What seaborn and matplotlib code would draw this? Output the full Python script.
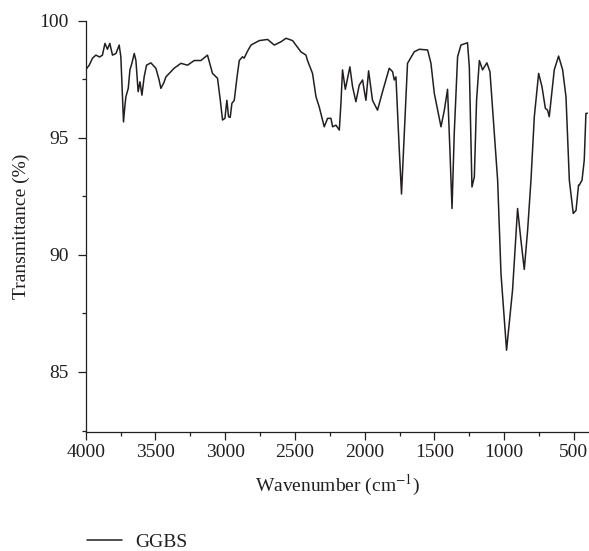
import matplotlib
matplotlib.use("Agg")
import matplotlib.pyplot as plt
import seaborn as sns
import pandas as pd
from matplotlib.ticker import MultipleLocator
from matplotlib.lines import Line2D

wavenumber = [4000, 3975, 3951, 3927, 3900, 3880, 3862, 3844, 3827, 3808, 3783, 3760, 3748, 3738,
              3729, 3720, 3712, 3695, 3683, 3669, 3652, 3640, 3630, 3624, 3611, 3597, 3581, 3564,
              3533, 3497, 3475, 3461, 3440, 3425, 3366, 3317, 3270, 3222, 3174, 3127, 3091, 3055,
              3035, 3019, 3002, 2988, 2976, 2964, 2952, 2935, 2915, 2899, 2876, 2864, 2840, 2815,
              2756, 2696, 2648, 2600, 2564, 2517, 2457, 2421, 2410, 2374, 2349, 2326, 2290, 2266,
              2242, 2230, 2206, 2182, 2170, 2159, 2139, 2106, 2087, 2063, 2039, 2015, 2004, 1991,
              1972, 1944, 1908, 1872, 1824, 1800, 1788, 1776, 1752, 1736, 1716, 1693, 1645, 1609,
              1549, 1525, 1501, 1453, 1429, 1406, 1389, 1374, 1358, 1334, 1310, 1263, 1250, 1231,
              1214, 1198, 1178, 1155, 1124, 1102, 1071, 1047, 1023, 983, 940, 904, 880, 856, 832,
              808, 784, 753, 729, 705, 689, 677, 641, 610, 581, 557, 533, 505, 485, 467, 462, 442,
              426, 414, 404]
transmittance = [97.9, 98.1, 98.4, 98.53, 98.45, 98.53, 99.03, 98.78, 99.03, 98.53, 98.6, 98.96, 98.46, 97.0,
                 95.68, 96.3, 96.75, 97.11, 97.9, 98.18, 98.6, 98.3, 97.5, 96.97, 97.39, 96.82, 97.6, 98.1,
                 98.2, 97.97, 97.5, 97.11, 97.35, 97.6, 97.97, 98.18, 98.1, 98.3, 98.3, 98.53, 97.75, 97.54,
                 96.6, 95.76, 95.83, 96.6, 95.9, 95.87, 96.47, 96.6, 97.6, 98.3, 98.46, 98.4, 98.7, 98.96,
                 99.15, 99.2, 98.96, 99.1, 99.25, 99.15, 98.67, 98.53, 98.3, 97.75, 96.75, 96.32, 95.47, 95.83,
                 95.83, 95.47, 95.54, 95.33, 96.5, 97.9, 97.07, 98.03, 97.18, 96.54, 97.25, 97.47, 97.04, 96.6,
                 97.86, 96.6, 96.18, 96.97, 97.97, 97.82, 97.47, 97.6, 94.47, 92.6, 95.2, 98.18, 98.67, 98.78,
                 98.75, 98.18, 96.9, 95.47, 96.18, 97.07, 94.47, 91.98, 95.19, 98.46, 98.96, 99.06, 98.03, 92.9,
                 93.33, 96.6, 98.3, 97.9, 98.2, 97.82, 95.19, 93.19, 89.2, 85.93, 88.5, 91.98, 90.63, 89.38, 91.05,
                 93.19, 95.9, 97.75, 97.18, 96.26, 96.18, 95.9, 97.9, 98.49, 97.9, 96.75, 93.19, 91.77, 91.9, 92.98, 92.98, 93.19,
                 94.05, 96.04, 96.05]
series_name = "GGBS"
x_major_ticks = [4000, 3500, 3000, 2500, 2000, 1500, 1000, 500]
y_major_ticks = [85, 90, 95, 100]

df = pd.DataFrame({"Wavenumber": wavenumber, "Transmittance": transmittance, "Sample": series_name})

sns.set_theme(style="ticks")
plt.rcParams['font.family'] = ['Liberation Serif', 'DejaVu Serif']
plt.rcParams['mathtext.fontset'] = 'stix'

W, H = 589, 551
fig = plt.figure(figsize=(W / 100, H / 100), dpi=100)
ax = fig.add_axes([85.7 / W, 1 - 431.7 / H, (W - 85.7) / W, (431.7 - 20.7) / H])

sns.lineplot(data=df, x="Wavenumber", y="Transmittance", hue="Sample", palette=["#231f20"],
             sort=False, lw=1.1, ax=ax, legend=False)

ax.set_xlim(4000, 392)
ax.set_ylim(82.45, 100)
ax.set_xticks(x_major_ticks)
ax.set_yticks(y_major_ticks)
ax.xaxis.set_minor_locator(MultipleLocator(250))
ax.yaxis.set_minor_locator(MultipleLocator(2.5))
for s in ["top", "right"]:
    ax.spines[s].set_visible(False)
for s in ["left", "bottom"]:
    ax.spines[s].set_linewidth(0.9)
    ax.spines[s].set_color("#231f20")
ax.tick_params(which="major", length=5.5, width=0.9, color="#231f20", labelsize=14,
               labelcolor="#231f20", pad=3)
ax.tick_params(axis="y", which="major", pad=6.5)
ax.tick_params(which="minor", length=3, width=0.9, color="#231f20")
ax.set_xlabel("Wavenumber (cm$^{-1}$)", fontsize=14, color="#231f20", labelpad=9)
ax.set_ylabel("Transmittance (%)", fontsize=14, color="#231f20", labelpad=7)

handle = Line2D([], [], color="#231f20", lw=1.1)
fig.legend([handle], [series_name], loc="center left",
           bbox_to_anchor=(86.7 / W, 1 - 542 / H), frameon=False, fontsize=14,
           handlelength=1.8, handletextpad=0.7, borderpad=0, borderaxespad=0,
           labelcolor="#231f20")

fig.savefig("out.png", dpi=100)
